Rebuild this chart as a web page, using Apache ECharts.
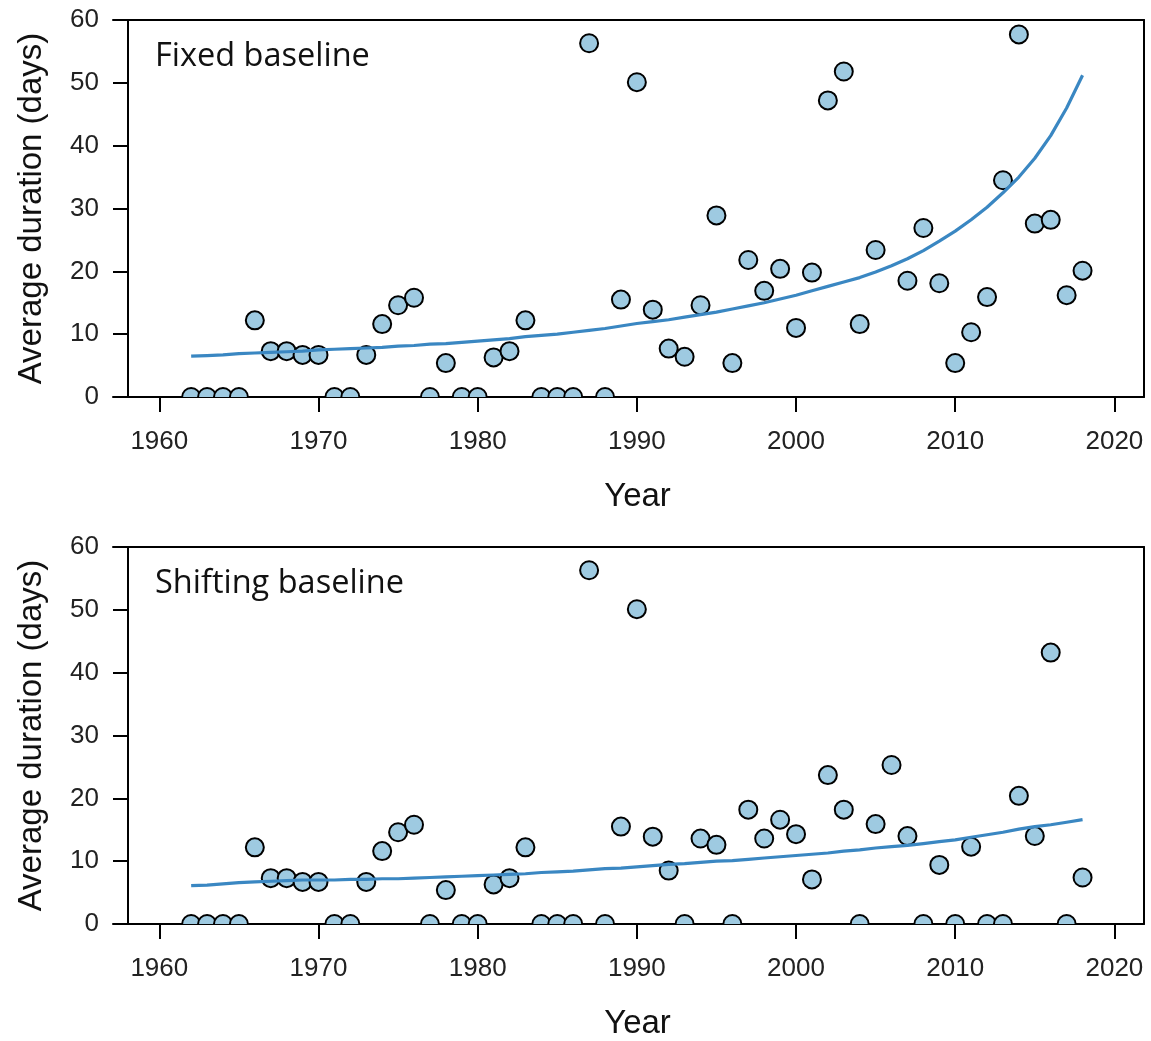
<!DOCTYPE html>
<html>
<head>
<meta charset="utf-8">
<script src="https://cdn.jsdelivr.net/npm/echarts@6/dist/echarts.min.js"></script>
<style>
html,body{margin:0;padding:0;background:#fff;}
#chart{width:1151px;height:1041px;}
</style>
</head>
<body>
<div id="chart"></div>
<script>
// ---- data ----
const years = [1962,1963,1964,1965,1966,1967,1968,1969,1970,1971,1972,1973,1974,1975,1976,1977,1978,1979,1980,
  1981,1982,1983,1984,1985,1986,1987,1988,1989,1990,1991,1992,1993,1994,1995,1996,1997,1998,1999,2000,
  2001,2002,2003,2004,2005,2006,2007,2008,2009,2010,2011,2012,2013,2014,2015,2016,2017,2018];

const fixedValues = [0,0,0,0,12.2,7.3,7.3,6.7,6.7,0,0,6.7,11.6,14.6,15.8,0,5.4,0,0,
  6.3,7.3,12.2,0,0,0,56.3,0,15.5,50.1,13.9,7.7,6.4,14.6,28.9,5.4,21.8,16.9,20.4,11.0,
  19.8,47.2,51.8,11.6,23.4,null,18.5,26.9,18.1,5.4,10.3,15.9,34.5,57.7,27.6,28.2,16.2,20.1];

const fixedTrend = [6.5,6.6,6.7,6.9,7.0,7.1,7.2,7.3,7.5,7.6,7.7,7.8,7.9,8.1,8.2,8.4,8.5,8.7,8.9,
  9.1,9.3,9.6,9.8,10.0,10.3,10.6,10.9,11.3,11.7,12.0,12.3,12.7,13.1,13.5,14.0,14.5,15.0,15.6,16.2,
  16.9,17.6,18.3,19.0,19.9,20.9,22.0,23.3,24.8,26.4,28.2,30.2,32.5,35.0,38.0,41.6,46.0,51.2];

const shiftingValues = [0,0,0,0,12.2,7.3,7.3,6.7,6.7,0,0,6.7,11.6,14.6,15.8,0,5.4,0,0,
  6.3,7.3,12.2,0,0,0,56.3,0,15.5,50.1,13.9,8.5,0,13.6,12.6,0,18.2,13.6,16.6,14.3,
  7.1,23.7,18.2,0,15.9,25.3,14.0,0,9.4,0,12.3,0,0,20.4,14.0,43.2,0,7.4];

const shiftingTrend = [6.1,6.2,6.4,6.6,6.7,6.8,6.9,7.0,7.0,7.0,7.1,7.1,7.2,7.2,7.3,7.4,7.5,7.6,7.7,
  7.8,7.9,8.0,8.2,8.3,8.4,8.6,8.8,8.9,9.1,9.3,9.5,9.6,9.8,10.0,10.1,10.3,10.5,10.7,10.9,
  11.1,11.3,11.6,11.8,12.1,12.3,12.5,12.8,13.1,13.4,13.8,14.2,14.6,15.1,15.5,15.8,16.2,16.6];

const xTicks = [1960,1970,1980,1990,2000,2010,2020];
const yTicks = [0,10,20,30,40,50,60];
const panelLabels = ['Fixed baseline','Shifting baseline'];
const xTitle = 'Year';
const yTitle = 'Average duration (days)';

// ---- chart ----
const chart = echarts.init(document.getElementById('chart'), null, {renderer:'canvas'});
const pair = (vals) => years.map((y,i) => [y, vals[i]]);

const X_MIN = 1957.09, X_MAX = 2021.86;
const tickFont = 'Liberation Sans, Arial, sans-serif';
const black = '#000';

function grid(top){ return {left:113, right:7, top:top, height:377, containLabel:false}; }

function xAxes(gi){
  return [
    {
      type:'value', gridIndex:gi, position:'bottom', min:X_MIN, max:X_MAX,
      axisLine:{show:true, onZero:false, lineStyle:{color:black, width:2}},
      axisTick:{show:true, customValues:xTicks, length:15, lineStyle:{color:black, width:2}},
      axisLabel:{show:true, customValues:xTicks, margin:32, fontFamily:tickFont, fontSize:26, color:'#222',
        formatter:(v)=>String(v)},
      splitLine:{show:false},
      name:xTitle, nameLocation:'middle', nameGap:83,
      nameTextStyle:{fontFamily:tickFont, fontSize:33, color:'#111', padding:[0,0,0,18]}
    },
    {
      type:'value', gridIndex:gi, position:'top', min:X_MIN, max:X_MAX,
      axisLine:{show:true, onZero:false, lineStyle:{color:black, width:2}},
      axisTick:{show:false}, axisLabel:{show:false}, splitLine:{show:false}
    }
  ];
}
function yAxes(gi){
  return [
    {
      type:'value', gridIndex:gi, position:'left', offset:-15, min:0, max:60, interval:10,
      axisLine:{show:true, onZero:false, lineStyle:{color:black, width:2}},
      axisTick:{show:true, length:15, lineStyle:{color:black, width:2}},
      axisLabel:{show:true, margin:29, fontFamily:tickFont, fontSize:26, color:'#222',
        customValues:yTicks, formatter:(v)=>String(v)},
      splitLine:{show:false},
      name:yTitle, nameLocation:'middle', nameGap:80,
      nameTextStyle:{fontFamily:tickFont, fontSize:33, color:'#111'}
    },
    {
      type:'value', gridIndex:gi, position:'right', min:0, max:60,
      axisLine:{show:true, onZero:false, lineStyle:{color:black, width:2}},
      axisTick:{show:false}, axisLabel:{show:false}, splitLine:{show:false}
    }
  ];
}

// points drawn as a clipped custom series so the zero-valued dots are cut by the axis like the original
function dots(gi, vals){
  return {
    type:'custom', xAxisIndex:gi*2, yAxisIndex:gi*2, data:pair(vals).filter(d=>d[1]!==null),
    clip:true, z:2, silent:true, encode:{x:0, y:1},
    renderItem:(params, api) => {
      const p = api.coord([api.value(0), api.value(1)]);
      return {type:'circle', shape:{cx:p[0], cy:p[1], r:9},
        style:{fill:'#9ecae1', stroke:black, lineWidth:2}};
    }
  };
}
function trend(gi, vals){
  return {
    type:'line', xAxisIndex:gi*2, yAxisIndex:gi*2, data:pair(vals),
    showSymbol:false, symbol:'none', smooth:false, clip:true, z:3, silent:true,
    lineStyle:{color:'#3a87c2', width:3.2}
  };
}

const labelStyle = {fontFamily:'Open Sans, Noto Sans, sans-serif', fontSize:32.5, fontWeight:'normal', color:'#111'};
chart.setOption({
  backgroundColor:'#fff',
  animation:false,
  title:[
    {text:panelLabels[0], left:150, top:35, textStyle:labelStyle},
    {text:panelLabels[1], left:150, top:562, textStyle:labelStyle}
  ],
  grid:[grid(20), grid(547)],
  xAxis:[...xAxes(0), ...xAxes(1)],
  yAxis:[...yAxes(0), ...yAxes(1)],
  series:[
    dots(0, fixedValues), trend(0, fixedTrend),
    dots(1, shiftingValues), trend(1, shiftingTrend)
  ]
});
</script>
</body>
</html>
